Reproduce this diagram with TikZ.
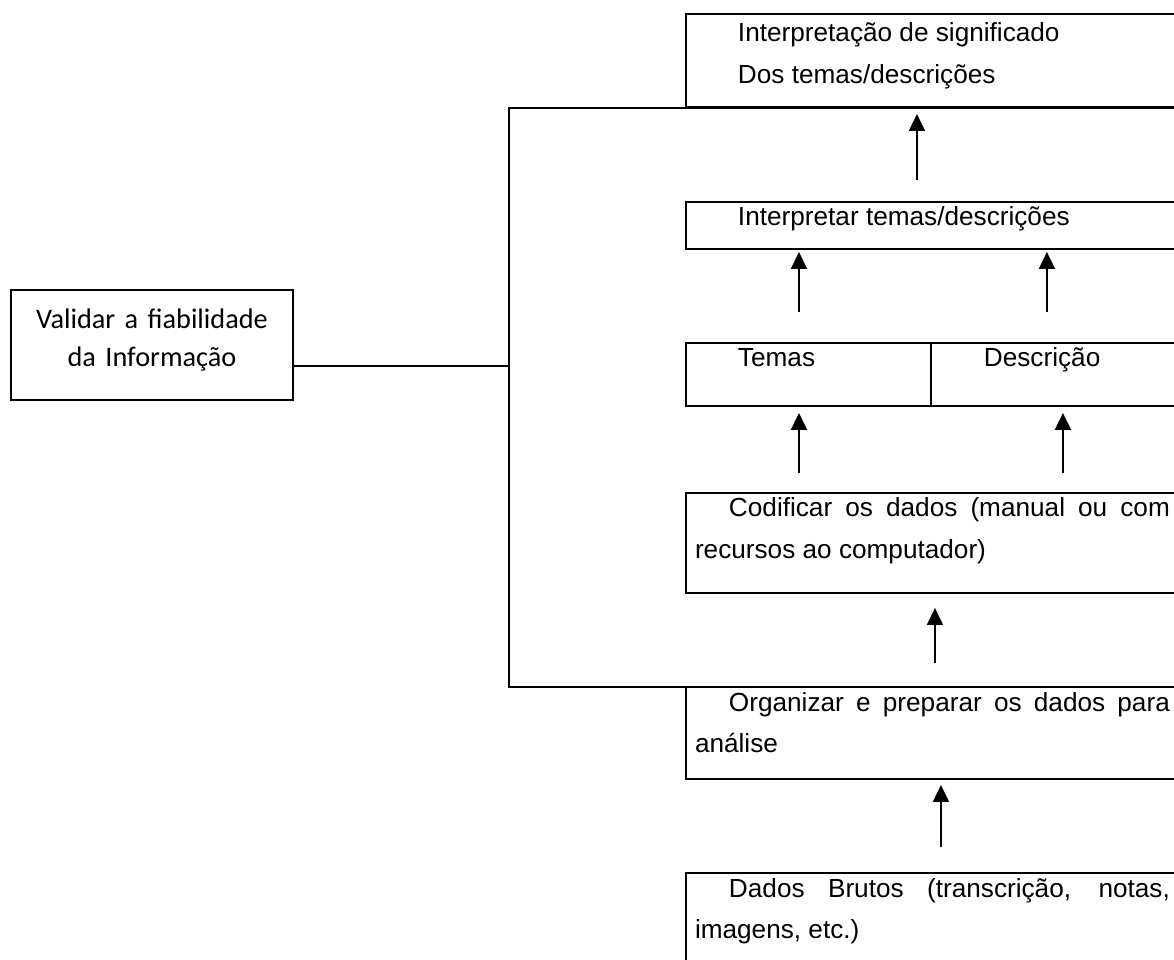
\documentclass[tikz,border=0pt]{standalone}
\usepackage{fontspec}
\setmainfont{Liberation Sans}
\newfontfamily\calibri{Carlito}
\usetikzlibrary{arrows.meta}

\tikzset{
  caixa/.style={draw,line width=1.1pt,outer sep=0pt,anchor=north west,inner xsep=0.18cm,inner ysep=0pt,
    align=justify,font=\fontsize{14.9}{23.8}\selectfont},
  seta/.style={line width=1.1pt,-{Triangle[length=0.34cm,width=0.32cm]}},
}

\begin{document}
\begin{tikzpicture}[x=0.02cm,y=-0.02cm]
      \useasboundingbox (0,0) rectangle (1174,960);
      \clip (0,0) rectangle (1174,960);

      % moldura grande
      \node[draw,line width=1.1pt,outer sep=0pt,anchor=north west,inner sep=0pt,
        minimum width=13.82cm,minimum height=11.58cm] (moldura) at (509,108) {};

      \node[caixa,text width=9.5cm,text height=0.56cm,text depth=1.30cm] (interp) at (686,14)
        {\hspace*{0.86cm}Interpretação de significado\\\hspace*{0.86cm}Dos temas/descrições};
      \node[caixa,text width=9.5cm,text height=0.48cm,text depth=0.46cm] (interpretar) at (686,202)
        {\hspace*{0.86cm}Interpretar temas/descrições};
      \node[caixa,text width=4.54cm,text height=0.48cm,text depth=0.78cm] (temas) at (686,343)
        {\hspace*{0.86cm}Temas};
      \node[caixa,text width=4.6cm,text height=0.48cm,text depth=0.78cm] (descricao) at (temas.north east)
        {\hspace*{0.88cm}Descrição};
      \node[caixa,text width=9.5cm,text height=0.48cm,text depth=1.52cm] (codificar) at (686,493)
        {\hspace*{0.68cm}Codificar os dados (manual ou com\linebreak recursos ao computador)};
      \node[caixa,text width=9.5cm,text height=0.48cm,text depth=1.36cm] (organizar) at (686,687)
        {\hspace*{0.68cm}Organizar e preparar os dados para\linebreak análise};
      \node[caixa,text width=9.5cm,text height=0.48cm,text depth=1.8cm] (dados) at (686,873)
        {\hspace*{0.68cm}Dados Brutos (transcrição, notas,\linebreak imagens, etc.)};

      \node[draw,line width=0.85pt,outer sep=0pt,anchor=north west,text width=5.24cm,inner xsep=0.2cm,
        inner ysep=0pt,align=center,text height=0.78cm,text depth=1.42cm,
        font=\calibri\fontsize{16.1}{21.5}\selectfont] (validar) at (11,290)
        {Validar a fiabilidade\\da Informação};

      \draw[line width=1.1pt] ([yshift=-0.42cm]validar.east) -- ([yshift=-0.42cm]validar.east -| moldura.west);

      % setas
      \draw[seta,shorten <=0.44cm,shorten >=0.14cm] ([xshift=4.62cm]interpretar.north west) -- ([xshift=4.62cm]interpretar.north west |- interp.south);
      \draw[seta,shorten <=0.62cm,shorten >=0.06cm] ([xshift=2.26cm]temas.north west) -- ([xshift=2.26cm]temas.north west |- interpretar.south);
      \draw[seta,shorten <=0.62cm,shorten >=0.06cm] ([xshift=2.32cm]descricao.north west) -- ([xshift=2.32cm]descricao.north west |- interpretar.south);
      \draw[seta,shorten <=0.40cm,shorten >=0.14cm] ([xshift=2.26cm]codificar.north west) -- ([xshift=2.26cm]codificar.north west |- temas.south);
      \draw[seta,shorten <=0.40cm,shorten >=0.14cm] ([xshift=7.54cm]codificar.north west) -- ([xshift=7.54cm]codificar.north west |- descricao.south);
      \draw[seta,shorten <=0.48cm,shorten >=0.30cm] ([xshift=4.98cm]organizar.north west) -- ([xshift=4.98cm]organizar.north west |- codificar.south);
      \draw[seta,shorten <=0.52cm,shorten >=0.12cm] ([xshift=5.1cm]dados.north west) -- ([xshift=5.1cm]dados.north west |- organizar.south);
\end{tikzpicture}
\end{document}
